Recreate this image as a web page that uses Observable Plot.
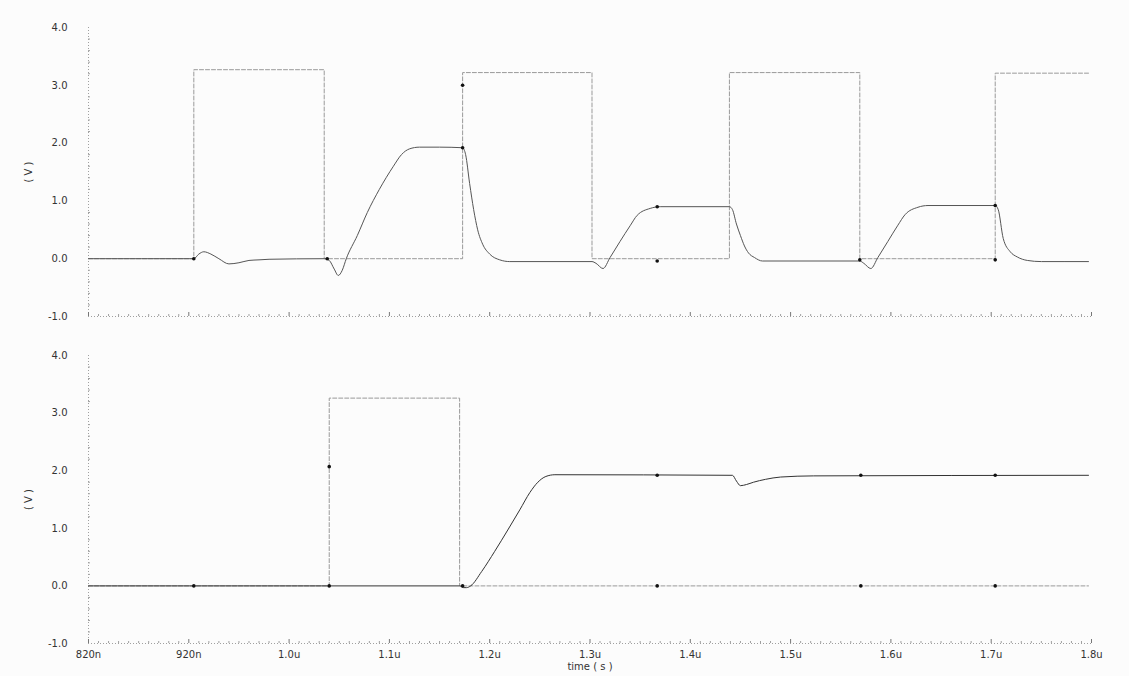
<!DOCTYPE html>
<html>
<head>
<meta charset="utf-8">
<script src="https://cdn.jsdelivr.net/npm/d3@7"></script>
<script src="https://cdn.jsdelivr.net/npm/@observablehq/plot@0.6"></script>
<style>
  html, body { margin: 0; padding: 0; background: #fcfcfc; }
  #chart svg { display: block; background: #fcfcfc; }
</style>
</head>
<body>
<div id="chart"></div>
<script>
// ---------- axis ticks ----------
const xTicks = [820, 920, 1020, 1120, 1220, 1320, 1420, 1520, 1620, 1720, 1820];
const xTickLabels = ["820n", "920n", "1.0u", "1.1u", "1.2u", "1.3u", "1.4u", "1.5u", "1.6u", "1.7u", "1.8u"];
const yTicks = [-1, 0, 1, 2, 3, 4];
const yTickLabels = ["-1.0", "0.0", "1.0", "2.0", "3.0", "4.0"];
const xLabel = "time ( s )";
const yLabel = "( V )";

// ---------- top panel: pulse (step) ----------
const topPulseT = [820, 925, 1055, 1193, 1322, 1459, 1589, 1724, 1817];
const topPulseV = [0, 3.27, 0, 3.22, 0, 3.22, 0, 3.21, 3.21];

// ---------- top panel: response ----------
const topRespT = [820, 925, 930, 935, 942, 950, 960, 970, 980, 990, 1000, 1055, 1060, 1065, 1069, 1073, 1077, 1088, 1098, 1110, 1124, 1132, 1140, 1150, 1170, 1193,
  1196, 1200, 1204, 1208, 1213, 1220, 1230, 1240, 1322, 1326, 1333, 1340, 1350, 1360, 1367, 1380, 1390, 1459,
  1462, 1466, 1470, 1474, 1478, 1484, 1492, 1589, 1593, 1600, 1607, 1617, 1627, 1634, 1647, 1657, 1724,
  1727, 1732, 1739, 1746, 1756, 1770, 1817];
const topRespV = [0, 0, 0.08, 0.12, 0.08, 0.0, -0.09, -0.07, -0.03, -0.02, -0.01, 0, -0.03, -0.18, -0.29, -0.2, 0.0, 0.4, 0.8, 1.2, 1.6, 1.8, 1.9, 1.93, 1.93, 1.92,
  1.8, 1.3, 0.85, 0.5, 0.25, 0.08, -0.02, -0.05, -0.05, -0.08, -0.17, 0.02, 0.3, 0.57, 0.75, 0.87, 0.9, 0.9,
  0.85, 0.6, 0.4, 0.22, 0.1, 0.02, -0.04, -0.04, -0.08, -0.17, 0.02, 0.3, 0.58, 0.76, 0.89, 0.92, 0.92,
  0.85, 0.35, 0.12, 0.03, -0.03, -0.05, -0.05];

const topMarkT = [925, 1058, 1193, 1193, 1387, 1387, 1589, 1724, 1724];
const topMarkV = [0, 0, 3.0, 1.92, 0.9, -0.04, -0.02, 0.92, -0.02];

// ---------- bottom panel: pulse (step) ----------
const botPulseT = [820, 1060, 1190, 1817];
const botPulseV = [0, 3.26, 0, 0];

// ---------- bottom panel: response ----------
const botRespT = [820, 1190, 1194, 1197, 1201, 1212, 1225, 1238, 1250, 1260, 1268, 1276, 1285, 1462, 1466, 1470, 1476, 1483, 1495, 1510, 1543, 1817];
const botRespV = [0, 0, -0.03, -0.03, 0, 0.25, 0.6, 0.97, 1.32, 1.62, 1.8, 1.9, 1.93, 1.92, 1.82, 1.74, 1.76, 1.8, 1.85, 1.89, 1.91, 1.92];

const botMarkT = [925, 1060, 1060, 1193, 1387, 1387, 1590, 1590, 1724, 1724];
const botMarkV = [0, 0, 2.07, 0, 1.92, 0, 1.92, 0, 1.92, 0];

// ---------- helpers ----------
const zip = (T, V) => T.map((t, i) => ({t, v: V[i]}));
const xMinor = d3.range(820, 1821, 10).filter(d => !xTicks.includes(d));
const yMinor = d3.range(-1, 4.001, 0.2).map(d => +d.toFixed(1)).filter(d => !yTicks.includes(d));
const fmtX = d => xTickLabels[xTicks.indexOf(d)];
const fmtY = d => yTickLabels[yTicks.indexOf(d)];

const axisColor = "#a0a0a0";
const font = "DejaVu Sans, sans-serif";

function panel({pulse, resp, marks, height, marginTop, marginBottom, showX, respColor, pulseLow}) {
  const m = [
    Plot.ruleX([820], {stroke: axisColor, strokeDasharray: "1,2"}),
    Plot.ruleY([-1], {stroke: axisColor, strokeDasharray: "1,2"}),
    Plot.axisX(xMinor, {tickSize: -2, text: null, stroke: axisColor, label: null}),
    Plot.axisX(xTicks, {tickSize: -4, text: null, stroke: "#777", label: null}),
    Plot.axisY(yMinor, {tickSize: -2, text: null, stroke: axisColor, label: null}),
    Plot.axisY(yTicks, {tickSize: 0, tickPadding: 21, tickFormat: fmtY, fill: "#333",
      label: yLabel, labelAnchor: "center", labelOffset: 64, labelArrow: "none"}),
    Plot.line(pulse, {x: "t", y: "v", curve: "step-after", stroke: "#999", strokeWidth: 1, strokeDasharray: "4,2"}),
    Plot.line(resp, {x: "t", y: "v", curve: "monotone-x", stroke: respColor, strokeWidth: 1}),
    Plot.dot(marks, {x: "t", y: "v", r: 1.8, fill: "#111", stroke: "none"})
  ];
  if (pulseLow) {
    m.splice(6, 0, Plot.ruleY([0], {stroke: "#666", strokeDasharray: "6,3"}));
  }
  if (showX) {
    m.push(Plot.axisX(xTicks, {tickSize: 0, tickPadding: 7, tickFormat: fmtX, fill: "#333",
      label: xLabel, labelAnchor: "center", labelOffset: 26, labelArrow: "none"}));
  }
  return Plot.plot({
    width: 1129,
    height,
    marginLeft: 88,
    marginRight: 38,
    marginTop,
    marginBottom,
    style: {fontFamily: font, fontSize: "10px", background: "#fcfcfc", color: "#333"},
    x: {domain: [820, 1820]},
    y: {domain: [-1, 4]},
    marks: m
  });
}

const chart = document.getElementById("chart");
chart.append(panel({
  pulse: zip(topPulseT, topPulseV),
  resp: zip(topRespT, topRespV),
  marks: zip(topMarkT, topMarkV),
  height: 330, marginTop: 27, marginBottom: 14, showX: false, respColor: "#555", pulseLow: false
}));
chart.append(panel({
  pulse: zip(botPulseT, botPulseV),
  resp: zip(botRespT, botRespV),
  marks: zip(botMarkT, botMarkV),
  height: 346, marginTop: 25, marginBottom: 33, showX: true, respColor: "#333", pulseLow: false
}));
</script>
</body>
</html>
